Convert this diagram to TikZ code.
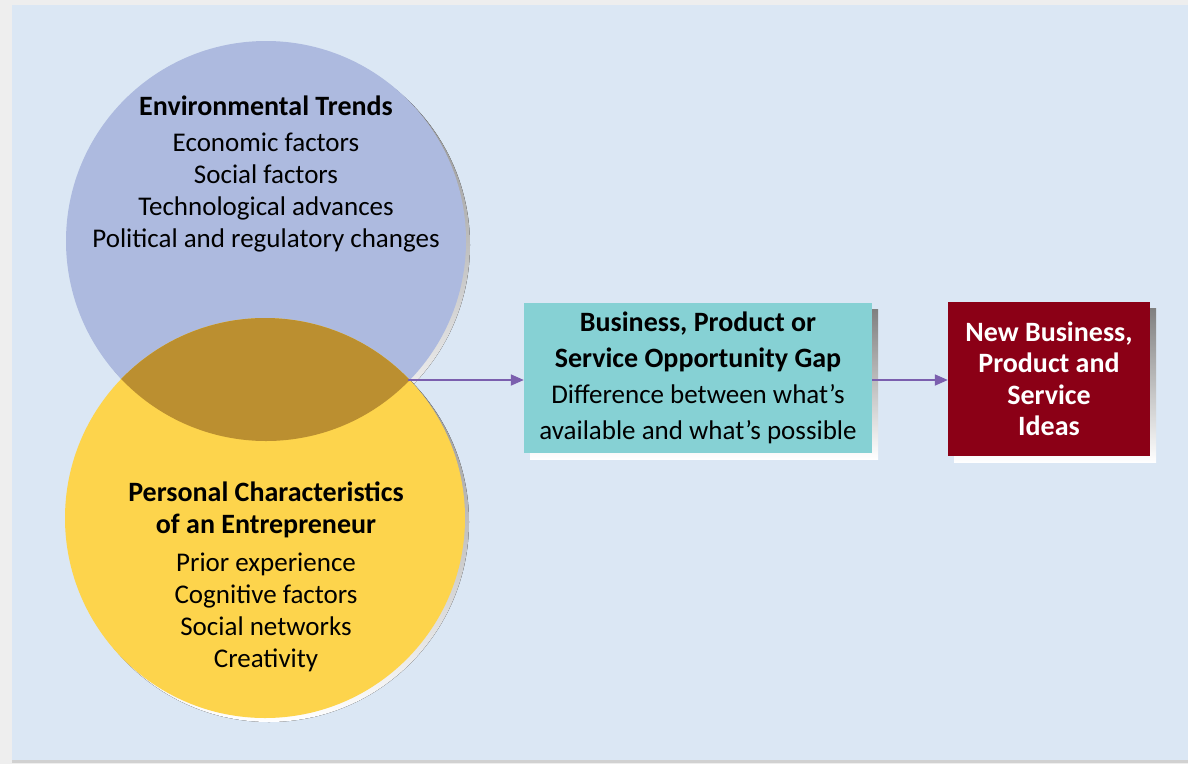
\documentclass[tikz,border=0pt]{standalone}
\usepackage{fontspec}
\setmainfont{Carlito}
\usetikzlibrary{arrows.meta}
\definecolor{pagegray}{HTML}{EEEEEE}
\definecolor{panel}{HTML}{DBE7F4}
\definecolor{shade}{HTML}{B2C0D4}
\definecolor{envblue}{HTML}{ADBADF}
\definecolor{persyellow}{HTML}{FDD44C}
\definecolor{overlap}{HTML}{BB8F30}
\definecolor{gapteal}{HTML}{86D1D4}
\definecolor{ideared}{HTML}{8B0016}
\definecolor{arrowpurple}{HTML}{7B5FAE}
\newcommand{\hd}[1]{{\bfseries\fontsize{28}{32}\selectfont #1}}
\tikzset{
  bubble/.style={circle, minimum size=400pt, inner sep=0pt},
  boxnode/.style={rectangle, inner sep=0pt, align=center},
  txt/.style={align=center, font=\fontsize{27}{32}\selectfont, inner sep=0pt},
  flow/.style={draw=arrowpurple, line width=1.8pt, -{Triangle[length=13pt,width=11pt]}},
}
\begin{document}
\begin{tikzpicture}[x=1pt,y=-1pt]
\useasboundingbox (0,0) rectangle (1188,764);
\fill[pagegray] (0,0) rectangle (1188,764);
\fill[panel] (12,5) rectangle (1188,760);
\fill[black!18] (12,760) rectangle (1188,763);
% shadows
\fill[shade] (270,245) circle[radius=200pt];
\fill[shade] (269,522) circle[radius=200pt];
\fill[shade] (530,309) rectangle (878,459);
\fill[shade] (954,308) rectangle (1156,462);
% circles
\node[bubble, fill=envblue] (env) at (266,241) {};
\node[bubble, fill=persyellow] (pers) at (265,518) {};
\begin{scope}
  \clip (266,241) circle[radius=200pt];
  \fill[overlap] (265,518) circle[radius=200pt];
\end{scope}
\coordinate (meet) at (408,380);
% boxes
\node[boxnode, fill=gapteal, minimum width=348pt, minimum height=150pt] (gap) at (698,378) {};
\node[boxnode, fill=ideared, minimum width=202pt, minimum height=154pt] (ideas) at (1049,379) {};
% texts
\node[txt] (envtxt) at (266,174) {\hd{Environmental Trends}\\[4pt]Economic factors\\Social factors\\Technological advances\\Political and regulatory changes};
\node[txt] (perstxt) at (266,577) {\hd{Personal Characteristics}\\\hd{of an Entrepreneur}\\[6pt]Prior experience\\Cognitive factors\\Social networks\\Creativity};
\node[txt, font=\fontsize{27}{36}\selectfont] (gaptxt) at (gap.center) {\hd{Business, Product or}\\\hd{Service Opportunity Gap}\\Difference between what’s\\available and what’s possible};
\node[txt, text=white, font=\bfseries\fontsize{28}{31.5}\selectfont] (ideastxt) at (ideas.center) {New Business,\\Product and\\Service\\Ideas};
% connectors
\draw[flow] (meet) -- (meet -| gap.west);
\draw[flow] (gap.east |- meet) -- (meet -| ideas.west);
\end{tikzpicture}
\end{document}
